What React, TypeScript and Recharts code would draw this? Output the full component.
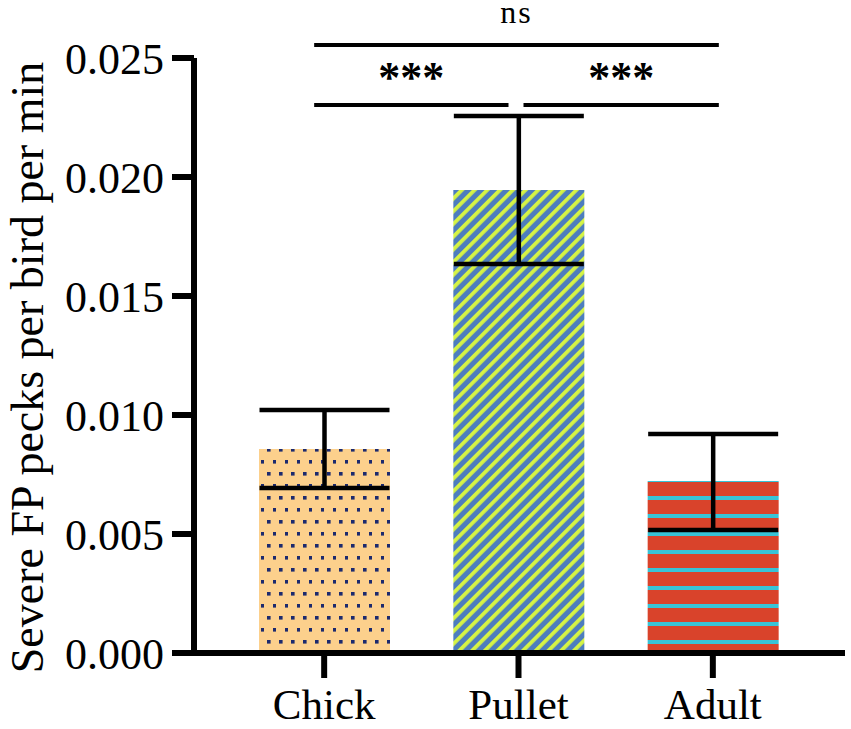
import { BarChart, Bar, XAxis, YAxis, Cell, ErrorBar, ReferenceLine } from 'recharts';

const categories = ['Chick', 'Pullet', 'Adult'];
const means = [0.00857, 0.01945, 0.00723];
const errors = [
  [0.00164, 0.00164],
  [0.00311, 0.00311],
  [0.00206, 0.00197],
];
const yTicks = [0, 0.005, 0.01, 0.015, 0.02, 0.025];

// significance brackets
const sigFrom = ['Chick', 'Chick', 'Pullet'];
const sigTo = ['Adult', 'Pullet', 'Adult'];
const sigY = [0.02555, 0.02303, 0.02303];
const sigText = ['ns', '***', '***'];

const fills = ['url(#dots)', 'url(#diag)', 'url(#hstripe)'];
const shifts = [
  [-10, 6],
  [-10, -10],
  [5, 6],
];

const data = categories.map((name, i) => ({ name, value: means[i], err: errors[i] }));

const FONT = '"Liberation Serif", "Times New Roman", serif';

const bracketShape = (i: number) => (p: any) => {
  const x1 = p.x1 + shifts[i][0];
  const x2 = p.x2 + shifts[i][1];
  const isNs = sigText[i] === 'ns';
  return (
    <g>
      <line x1={x1} y1={p.y1} x2={x2} y2={p.y2} stroke="#000" strokeWidth={4} />
      <text
        x={(x1 + x2) / 2}
        y={p.y1 - (isNs ? 22 : 13)}
        textAnchor="middle"
        fontFamily={FONT}
        fontSize={isNs ? 32 : 44}
        fontWeight={isNs ? 'normal' : 'bold'}
        letterSpacing={isNs ? 2 : 0}
        fill="#000"
      >
        {sigText[i]}
      </text>
    </g>
  );
};

export default function App() {
  return (
    <div style={{ position: 'absolute', left: 0, top: 0, background: '#fff' }}>
      <BarChart
        width={851}
        height={729}
        data={data}
        margin={{ top: 58, right: 6, bottom: 0, left: 0 }}
        barSize={131}
      >
        <defs>
          <pattern id="dots" width={12} height={24} patternUnits="userSpaceOnUse">
            <rect width={12} height={24} fill="#FCD08C" />
            <rect x={3} y={16} width={3.6} height={3.6} fill="#1C2A6E" />
            <rect x={9} y={4} width={3.6} height={3.6} fill="#1C2A6E" />
          </pattern>
          <pattern id="diag" width={9} height={9} patternUnits="userSpaceOnUse" patternTransform="rotate(45)">
            <rect width={9} height={9} fill="#4D7DBE" />
            <rect width={3.8} height={9} fill="#D6F444" />
          </pattern>
          <pattern id="hstripe" width={18} height={18} patternUnits="userSpaceOnUse">
            <rect width={18} height={18} fill="#D9432B" />
            <rect y={10} width={18} height={4} fill="#38C3D6" />
          </pattern>
        </defs>
        <XAxis
          dataKey="name"
          height={76}
          padding={{ left: 33, right: 35 }}
          axisLine={{ stroke: '#000', strokeWidth: 6 }}
          tickLine={{ stroke: '#000', strokeWidth: 6 }}
          tickSize={25}
          tickMargin={10}
          tick={{ fill: '#000', fontSize: 43, fontFamily: FONT }}
        />
        <YAxis
          width={194}
          domain={[0, 0.025]}
          ticks={yTicks}
          tickFormatter={(v: number) => v.toFixed(3)}
          axisLine={{ stroke: '#000', strokeWidth: 6 }}
          tickLine={{ stroke: '#000', strokeWidth: 6 }}
          tickSize={22}
          tickMargin={8}
          tick={{ fill: '#000', fontSize: 44, fontFamily: FONT }}
          label={{
            value: 'Severe FP pecks per bird per min',
            angle: -90,
            position: 'insideLeft',
            offset: 27,
            dy: 12,
            fill: '#000',
            fontSize: 46,
            fontFamily: FONT,
            style: { textAnchor: 'middle' },
          }}
        />
        <Bar dataKey="value" isAnimationActive={false}>
          {data.map((d, i) => (
            <Cell key={d.name} fill={fills[i]} />
          ))}
          <ErrorBar dataKey="err" width={65} strokeWidth={4.5} stroke="#000" direction="y" />
        </Bar>
        {sigText.map((t, i) => (
          <ReferenceLine
            key={i}
            segment={[
              { x: sigFrom[i], y: sigY[i] },
              { x: sigTo[i], y: sigY[i] },
            ]}
            ifOverflow="visible"
            shape={bracketShape(i)}
          />
        ))}
      </BarChart>
    </div>
  );
}
